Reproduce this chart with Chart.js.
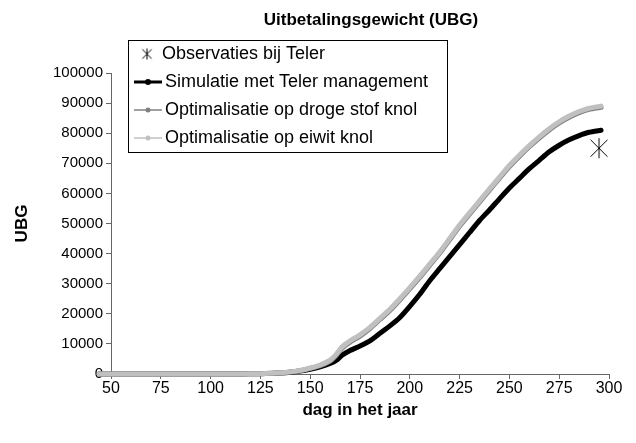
<!DOCTYPE html>
<html>
<head>
<meta charset="utf-8">
<script src="https://cdn.jsdelivr.net/npm/chart.js@4.4.0/dist/chart.umd.min.js"></script>
<style>
  html, body { margin: 0; padding: 0; background: #fff; }
  #wrap { width: 636px; height: 443px; }
</style>
</head>
<body>
<div id="wrap"><canvas id="chart" width="636" height="443"></canvas></div>
<script>
// === DATA ===
const days = [44, 50, 60, 70, 80, 90, 100, 110, 120, 125, 130, 135, 140, 145, 150, 155, 160, 163, 166, 170,
  175, 180, 185, 190, 195, 200, 205, 210, 215, 220, 225, 230, 235, 240, 245, 250, 255, 260, 265, 270,
  275, 280, 285, 290, 296];
const simulatie = [0, 0, 0, 0, 0, 0, 0, 0, 50, 100, 200, 350, 600, 1000, 1600, 2400, 3500, 4500, 6200, 7800,
  9300, 11000, 13500, 16000, 18800, 22500, 26500, 31000, 35000, 39000, 43000, 47000, 51000, 54500, 58200, 61800, 65000, 68200, 71000, 73800,
  76000, 77800, 79200, 80300, 81000];
const drogeStof = [0, 0, 0, 0, 0, 0, 0, 0, 50, 110, 230, 380, 650, 1100, 1850, 2800, 4300, 6100, 8600, 10600,
  12600, 15100, 18100, 21100, 24600, 28300, 32100, 36100, 40100, 44600, 49100, 53100, 57100, 61100, 65000, 68900, 72300, 75500, 78400, 81100,
  83400, 85300, 86800, 87900, 88600];
const eiwit = [0, 0, 0, 0, 0, 0, 0, 0, 50, 120, 250, 400, 700, 1200, 2000, 3000, 4600, 6500, 9000, 11000,
  13000, 15500, 18500, 21500, 25000, 28700, 32500, 36500, 40500, 45000, 49500, 53500, 57500, 61500, 65400, 69300, 72700, 75900, 78800, 81500,
  83800, 85700, 87200, 88300, 89000];
const obsDays = [295];
const obsUbg = [75000];

const labels = ['Observaties bij Teler', 'Simulatie met Teler management', 'Optimalisatie op droge stof knol', 'Optimalisatie op eiwit knol'];
const FONT = 'Liberation Sans, Arial, sans-serif';

const pts = ys => days.map((d, i) => ({ x: d, y: ys[i] }));

// excel style star: X with a vertical bar
const makeStar = (size, lw) => {
  const c = document.createElement('canvas');
  c.width = size; c.height = size;
  const g = c.getContext('2d');
  g.strokeStyle = '#000'; g.lineWidth = lw;
  const m = size / 2, r = size / 2 - 1;
  g.beginPath();
  g.moveTo(m - r * 0.85, m - r * 0.85); g.lineTo(m + r * 0.85, m + r * 0.85);
  g.moveTo(m + r * 0.85, m - r * 0.85); g.lineTo(m - r * 0.85, m + r * 0.85);
  g.moveTo(m, m - r); g.lineTo(m, m + r);
  g.stroke();
  return c;
};
const starBig = makeStar(22, 1);
const starSmall = makeStar(13, 1);

// title + boxed legend drawn on top
const boxLegend = {
  id: 'boxLegend',
  afterDraw(chart) {
    const ctx = chart.ctx;
    ctx.save();
    ctx.fillStyle = '#000';
    ctx.font = 'bold 17px ' + FONT;
    ctx.textAlign = 'center'; ctx.textBaseline = 'middle';
    ctx.fillText('Uitbetalingsgewicht (UBG)', 371, 20);

    const bx = 128, by = 40, bw = 319, bh = 112;
    ctx.fillStyle = '#fff';
    ctx.fillRect(bx, by, bw, bh);
    ctx.strokeStyle = '#000'; ctx.lineWidth = 1;
    ctx.strokeRect(bx + 0.5, by + 0.5, bw, bh);

    const rowY = [54, 82, 110, 138];
    const cols = ['#000', '#000', '#808080', '#c0c0c0'];
    ctx.font = '18px ' + FONT;
    ctx.textAlign = 'left';
    rowY.forEach((y, i) => {
      if (i === 0) {
        ctx.drawImage(starSmall, 147 - 6.5, y - 6.5);
      } else {
        ctx.strokeStyle = cols[i];
        ctx.lineWidth = i === 1 ? 3 : 1.5;
        ctx.beginPath(); ctx.moveTo(134, y); ctx.lineTo(162, y); ctx.stroke();
        ctx.fillStyle = cols[i];
        ctx.beginPath(); ctx.arc(148, y, i === 1 ? 3 : 2.5, 0, Math.PI * 2); ctx.fill();
      }
      ctx.fillStyle = '#000';
      ctx.fillText(labels[i], i === 0 ? 162 : 165, y);
    });
    ctx.restore();
  }
};

const lineSet = (label, ys, color, order) => ({
  label, data: pts(ys), borderColor: color, backgroundColor: color,
  borderWidth: 5, pointRadius: 0, tension: 0.2, clip: false, order,
  borderCapStyle: 'round', borderJoinStyle: 'round'
});

new Chart(document.getElementById('chart'), {
  type: 'line',
  data: {
    datasets: [
      { label: labels[0], data: obsDays.map((d, i) => ({ x: d, y: obsUbg[i] })), showLine: false,
        pointStyle: starBig, pointRadius: 11, borderColor: '#000', order: 0 },
      lineSet(labels[1], simulatie, '#000', 3),
      lineSet(labels[2], drogeStof, '#808080', 2),
      lineSet(labels[3], eiwit, '#c0c0c0', 1)
    ]
  },
  options: {
    responsive: false,
    animation: false,
    layout: { padding: { top: 73, right: 27, left: 0, bottom: 0 } },
    plugins: { legend: { display: false }, tooltip: { enabled: false }, title: { display: false } },
    scales: {
      x: {
        type: 'linear', min: 50, max: 300,
        afterFit: s => { s.height = 69; },
        ticks: { stepSize: 25, color: '#000', font: { family: FONT, size: 16 }, padding: 0, maxRotation: 0 },
        grid: { drawOnChartArea: false, tickLength: 5, color: '#666' },
        border: { color: '#666' },
        title: { display: true, text: 'dag in het jaar', color: '#000', font: { family: FONT, size: 17, weight: 'bold' }, padding: { top: 0, bottom: 22 } }
      },
      y: {
        min: 0, max: 100000,
        afterFit: s => { s.width = 111; },
        ticks: { stepSize: 10000, color: '#000', font: { family: FONT, size: 15 }, padding: 3,
          callback: v => String(v) },
        grid: { drawOnChartArea: false, tickLength: 5, color: '#666' },
        border: { color: '#666' },
        title: { display: true, text: 'UBG', color: '#000', font: { family: FONT, size: 17, weight: 'bold' }, padding: { top: 12, bottom: 0 } }
      }
    }
  },
  plugins: [boxLegend]
});
</script>
</body>
</html>
